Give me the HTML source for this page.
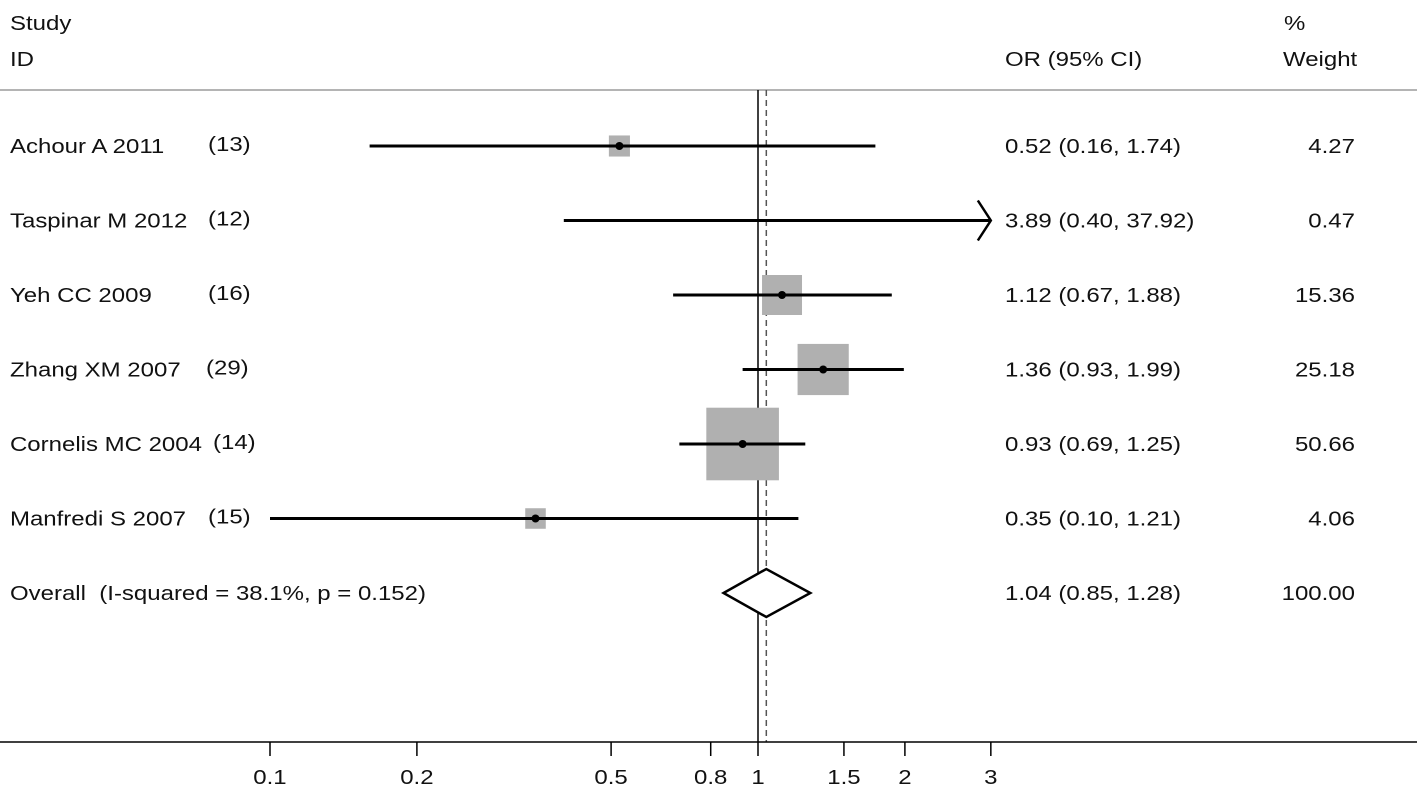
<!DOCTYPE html>
<html><head><meta charset="utf-8">
<style>
body{margin:0;background:#fff;}
svg text{font-family:"Liberation Sans",Arial,sans-serif;font-size:20px;fill:#111;white-space:pre;}
</style></head>
<body>
<svg id="chart" width="1417" height="798" viewBox="0 0 1417 798" xmlns="http://www.w3.org/2000/svg">
<text x="10" y="30">Study</text>
<text x="10" y="66">ID</text>
<text x="1005" y="66">OR (95% CI)</text>
<text x="1284" y="30">%</text>
<text x="1283" y="66">Weight</text>
<line x1="0" y1="90" x2="1417" y2="90" stroke="#888" stroke-width="1.2"/>
<g id="marks"></g>
</svg>
<script>
const studies=["Achour A 2011","Taspinar M 2012","Yeh CC 2009","Zhang XM 2007","Cornelis MC 2004","Manfredi S 2007"];
const refs=["(13)","(12)","(16)","(29)","(14)","(15)"];
const refX=[208,208,208,206,213,208];
const orVals=[0.52,3.89,1.12,1.36,0.93,0.35];
const lowVals=[0.16,0.40,0.67,0.93,0.69,0.10];
const highVals=[1.74,37.92,1.88,1.99,1.25,1.21];
const weights=[4.27,0.47,15.36,25.18,50.66,4.06];
const orLabels=["0.52 (0.16, 1.74)","3.89 (0.40, 37.92)","1.12 (0.67, 1.88)","1.36 (0.93, 1.99)","0.93 (0.69, 1.25)","0.35 (0.10, 1.21)"];
const overall=[1.04,0.85,1.28];
const tickVals=[0.1,0.2,0.5,0.8,1,1.5,2,3];
const tickLabels=["0.1","0.2","0.5","0.8","1","1.5","2","3"];
const NS="http://www.w3.org/2000/svg";
const g=document.getElementById('marks');
const x=v=>758+488*Math.log10(v);
const xMax=x(3);
const rowY=i=>146+74.5*i;
function mk(t,a){const e=document.createElementNS(NS,t);for(const k in a)e.setAttribute(k,a[k]);g.appendChild(e);return e;}
let e;
e=mk('line',{x1:758,y1:90,x2:758,y2:742,stroke:'#000','stroke-width':1.5});


e=mk('line',{x1:x(overall[0]),y1:90,x2:x(overall[0]),y2:742,stroke:'#555','stroke-width':1.5,'stroke-dasharray':'6,4'});


studies.forEach((s,i)=>{
 const y=rowY(i);
 e=mk('text',{x:10,y:y+7});e.textContent=s;
 
 
 e=mk('text',{x:refX[i],y:y+5});e.textContent=refs[i];
 
 
 const inRange=x(orVals[i])<=xMax;
 const side=10.2*Math.sqrt(weights[i]);
 if(inRange){
  e=mk('rect',{x:x(orVals[i])-side/2,y:y-side/2,width:side,height:side,fill:'#b0b0b0'});
  
  
 }
 const hi=Math.min(x(highVals[i]),xMax);
 e=mk('line',{x1:x(lowVals[i]),y1:y,x2:hi,y2:y,stroke:'#000','stroke-width':3});
 
 
 if(x(highVals[i])>xMax){
  e=mk('polyline',{points:`${hi-13},${y-20} ${hi},${y} ${hi-13},${y+20}`,fill:'none',stroke:'#000','stroke-width':2.5});
  
  
 }
 if(inRange){
  e=mk('circle',{cx:x(orVals[i]),cy:y,r:4,fill:'#000'});
  
  
 }
 e=mk('text',{x:1005,y:y+7});e.textContent=orLabels[i];
 
 
 e=mk('text',{x:1355,y:y+7,'text-anchor':'end'});e.textContent=weights[i].toFixed(2);
 
 
});
const oy=rowY(6);
e=mk('text',{x:10,y:oy+7});e.textContent='Overall  (I-squared = 38.1%, p = 0.152)';


e=mk('polygon',{points:`${x(overall[1])},${oy} ${x(overall[0])},${oy-24} ${x(overall[2])},${oy} ${x(overall[0])},${oy+24}`,fill:'#fff',stroke:'#000','stroke-width':2.5});


e=mk('text',{x:1005,y:oy+7});e.textContent='1.04 (0.85, 1.28)';


e=mk('text',{x:1355,y:oy+7,'text-anchor':'end'});e.textContent='100.00';


e=mk('line',{x1:0,y1:742,x2:1417,y2:742,stroke:'#000','stroke-width':1.5});


tickVals.forEach((v,i)=>{
 e=mk('line',{x1:x(v),y1:742,x2:x(v),y2:756,stroke:'#000','stroke-width':1.5});
 
 
 e=mk('text',{x:x(v),y:784,'text-anchor':'middle'});e.textContent=tickLabels[i];
 
 
});
document.querySelectorAll('#chart text').forEach(t=>{
 const tx=parseFloat(t.getAttribute('x'));
 t.setAttribute('transform',`translate(${tx},0) scale(1.2,1) translate(${-tx},0)`);
});
</script>
</body></html>
